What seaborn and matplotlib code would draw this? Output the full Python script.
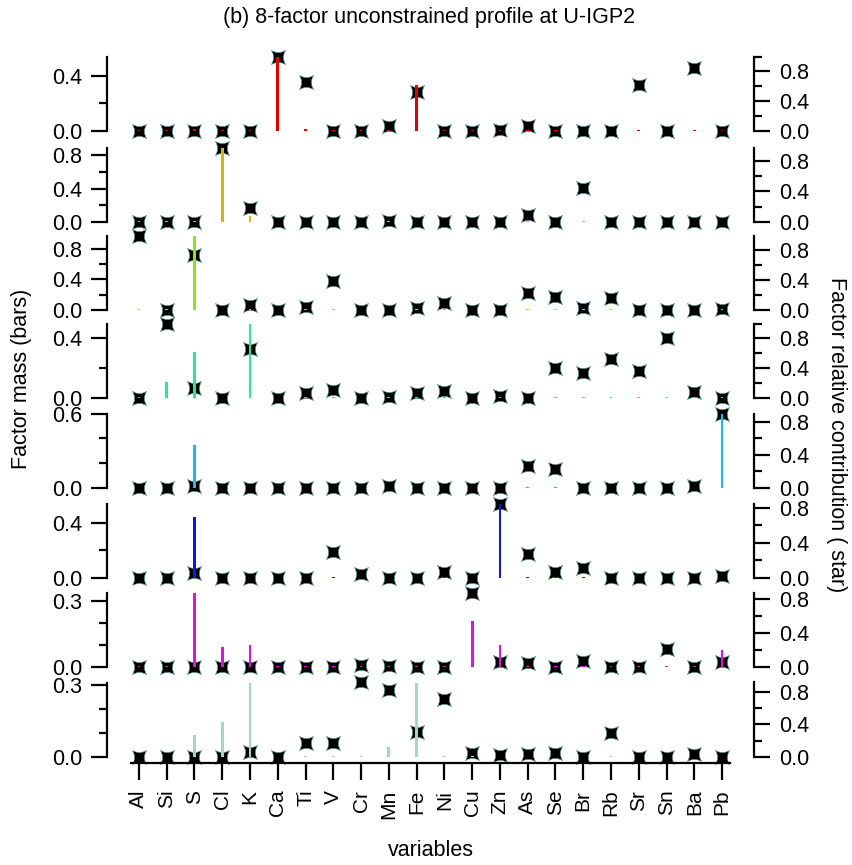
import numpy as np
import matplotlib
matplotlib.use('Agg')
import matplotlib.pyplot as plt
import seaborn as sns
from matplotlib.path import Path
from matplotlib.ticker import FormatStrFormatter

# variables on the x axis
elements = ['Al', 'Si', 'S', 'Cl', 'K', 'Ca', 'Ti', 'V', 'Cr', 'Mn', 'Fe',
            'Ni', 'Cu', 'Zn', 'As', 'Se', 'Br', 'Rb', 'Sr', 'Sn', 'Ba', 'Pb']

# factor mass (bars), one list per factor
mass_f1 = [.006, .006, .014, .006, .006, .54, .012, .005, .005, .004, .33,
           .004, .004, .008, .004, .004, .003, .003, .004, .002, .004, .004]
mass_f2 = [.006, .006, .006, .89, .07, .004, .004, .004, .004, .006, .004,
           .004, .004, .004, .006, .004, .008, .004, .004, .004, .004, .004]
mass_f3 = [.01, .01, .97, .006, .01, .004, .008, .01, .005, .005, .008,
           .01, .005, .005, .01, .01, .008, .01, .005, .005, .005, .008]
mass_f4 = [.004, .11, .31, .003, .50, .003, .006, .006, .003, .004, .006,
           .006, .003, .005, .003, .006, .006, .006, .006, .006, .006, .004]
mass_f5 = [.004, .004, .35, .004, .004, .004, .004, .004, .004, .004, .004,
           .004, .004, .004, .008, .008, .004, .004, .004, .004, .004, .60]
mass_f6 = [.003, .003, .44, .003, .003, .003, .003, .007, .003, .003, .003,
           .007, .003, .54, .007, .007, .007, .003, .003, .003, .003, .003]
mass_f7 = [.003, .003, .34, .09, .10, .003, .003, .003, .003, .003, .003,
           .003, .21, .10, .003, .003, .003, .003, .003, .005, .003, .077]
mass_f8 = [.002, .002, .09, .146, .31, .002, .005, .005, .005, .04, .31,
           .005, .004, .002, .002, .002, .002, .005, .002, .002, .002, .002]

# factor relative contribution (stars)
contrib_f1 = [0, 0, 0, 0, 0, 1.0, .66, 0, 0, .07, .52,
              0, 0, .01, .07, 0, 0, 0, .62, 0, .85, 0]
contrib_f2 = [0, 0, 0, .97, .18, 0, 0, 0, 0, .01, 0,
              0, 0, 0, .09, 0, .44, 0, 0, 0, 0, 0]
contrib_f3 = [.99, 0, .73, 0, .07, 0, .04, .39, 0, 0, .03,
              .09, 0, 0, .23, .17, .02, .16, 0, 0, 0, .01]
contrib_f4 = [0, 1.0, .14, 0, .66, 0, .07, .11, 0, .01, .07,
              .09, 0, .03, 0, .40, .34, .52, .36, .80, .08, 0]
contrib_f5 = [0, 0, .02, 0, 0, 0, 0, 0, 0, .02, 0,
              0, 0, 0, .26, .23, 0, 0, 0, 0, .02, .90]
contrib_f6 = [0, 0, .06, 0, 0, 0, 0, .30, .05, 0, 0,
              .07, 0, .85, .27, .07, .11, 0, 0, 0, 0, .02]
contrib_f7 = [0, 0, 0, 0, 0, 0, 0, 0, .02, .01, 0,
              0, .88, .06, .05, 0, .07, 0, 0, .21, 0, .06]
contrib_f8 = [0, 0, 0, 0, .06, 0, .17, .17, .91, .82, .31,
              .71, .05, .03, .04, .05, 0, .29, 0, 0, .04, 0]

masses = [mass_f1, mass_f2, mass_f3, mass_f4, mass_f5, mass_f6, mass_f7, mass_f8]
contribs = [contrib_f1, contrib_f2, contrib_f3, contrib_f4,
            contrib_f5, contrib_f6, contrib_f7, contrib_f8]
colors = ['#e00000', '#d8b40c', '#88e61c', '#22ec8e',
          '#1ab8f0', '#1414e6', '#e010e0', '#a2d6cc']

# left axis ticks per panel (major, minor)
left_ticks = [([0, .4], [.2]), ([0, .4, .8], [.2, .6]), ([0, .4, .8], [.2, .6]),
              ([0, .4], [.2]), ([0, .6], [.2, .4]), ([0, .4], [.2]),
              ([0, .3], [.1, .2]), ([0, .3], [.1, .2])]

sns.set_style('ticks', rc={'axes.edgecolor': 'black', 'xtick.color': 'black',
                           'ytick.color': 'black', 'text.color': 'black',
                           'axes.labelcolor': 'black'})
plt.rcParams['font.family'] = ['Liberation Sans', 'DejaVu Sans']

W, H = 853, 865
fig = plt.figure(figsize=(W / 100, H / 100), dpi=100)

# concave 4-point star marker
verts = [(1, 1), (0, .35), (-1, 1), (-.35, 0), (-1, -1), (0, -.35), (1, -1),
         (.35, 0), (1, 1), (0, 0)]
codes = [Path.MOVETO] + [Path.CURVE3] * 8 + [Path.CLOSEPOLY]
star = Path(verts, codes)

zero_px = [131, 222, 310, 398, 488, 578, 667, 757]
panel_h = 74.5
x0, x1 = 107, 754
pos = np.arange(len(elements))
tick_fs = 15.5
lw = 1.6

for i in range(8):
    ax = fig.add_axes([x0 / W, 1 - zero_px[i] / H, (x1 - x0) / W, panel_h / H])
    sns.barplot(x=elements, y=masses[i], ax=ax, color=colors[i], saturation=1,
                width=0.1, linewidth=0, errorbar=None)
    ax2 = ax.twinx()
    sns.scatterplot(x=pos, y=contribs[i], ax=ax2, marker=star, s=105,
                    color='black', edgecolor='#4f918a', linewidth=0.4,
                    clip_on=False, zorder=3)
    ax.set_zorder(2)
    ax2.set_zorder(1)
    ax.patch.set_visible(False)

    ax.set_xlim(-1.15, 22.15)
    ax.set_ylim(0, max(masses[i]))
    ax2.set_ylim(0, max(contribs[i]))
    ax.set_xlabel('')
    ax.set_ylabel('')
    ax2.set_ylabel('')

    for s in ['top', 'right', 'bottom']:
        ax.spines[s].set_visible(False)
    for s in ['top', 'left', 'bottom']:
        ax2.spines[s].set_visible(False)
    ax.spines['left'].set_linewidth(lw)
    ax2.spines['right'].set_linewidth(lw)

    major, minor = left_ticks[i]
    ax.set_yticks(major)
    ax.set_yticks(minor, minor=True)
    ax.yaxis.set_major_formatter(FormatStrFormatter('%.1f'))
    ax.tick_params(axis='y', which='major', length=11.5, width=lw, pad=6.5,
                   labelsize=tick_fs, direction='out')
    ax.tick_params(axis='y', which='minor', length=5.8, width=lw, direction='out')

    rmax = max(contribs[i])
    ax2.set_yticks([0, .4, .8])
    ax2.set_yticks([v for v in [.2, .6, 1.0] if v <= rmax + 1e-9], minor=True)
    ax2.yaxis.set_major_formatter(FormatStrFormatter('%.1f'))
    ax2.tick_params(axis='y', which='major', length=11.5, width=lw, pad=6.5,
                    labelsize=tick_fs, direction='out')
    ax2.tick_params(axis='y', which='minor', length=5.8, width=lw, direction='out')

    if i < 7:
        ax.tick_params(axis='x', which='both', bottom=False, labelbottom=False)
        ax2.tick_params(axis='x', which='both', bottom=False, labelbottom=False)
    else:
        ax.spines['bottom'].set_visible(True)
        ax.spines['bottom'].set_linewidth(lw)
        ax.spines['bottom'].set_position(('outward', 4.5))
        ax.spines['bottom'].set_bounds(-0.3, 21.3)
        ax.set_xticks(pos)
        ax.set_xticklabels(elements, rotation=90)
        ax.tick_params(axis='x', length=12, width=lw, pad=7, labelsize=15,
                       direction='out')
        ax2.tick_params(axis='x', which='both', bottom=False, labelbottom=False)

fig.text(429 / W, 1 - 17 / H, '(b) 8-factor unconstrained profile at U-IGP2',
         ha='center', va='center', fontsize=15.5)
fig.text(22 / W, 1 - 379 / H, 'Factor mass (bars)', rotation=90,
         ha='center', va='center', fontsize=15.5)
fig.text(837 / W, 1 - 435 / H, 'Factor relative contribution ( star)',
         rotation=270, ha='center', va='center', fontsize=15.5)
fig.text(431 / W, 1 - 850 / H, 'variables', ha='center', va='center',
         fontsize=15.5)

fig.savefig('out.png', dpi=100)
plt.close(fig)
